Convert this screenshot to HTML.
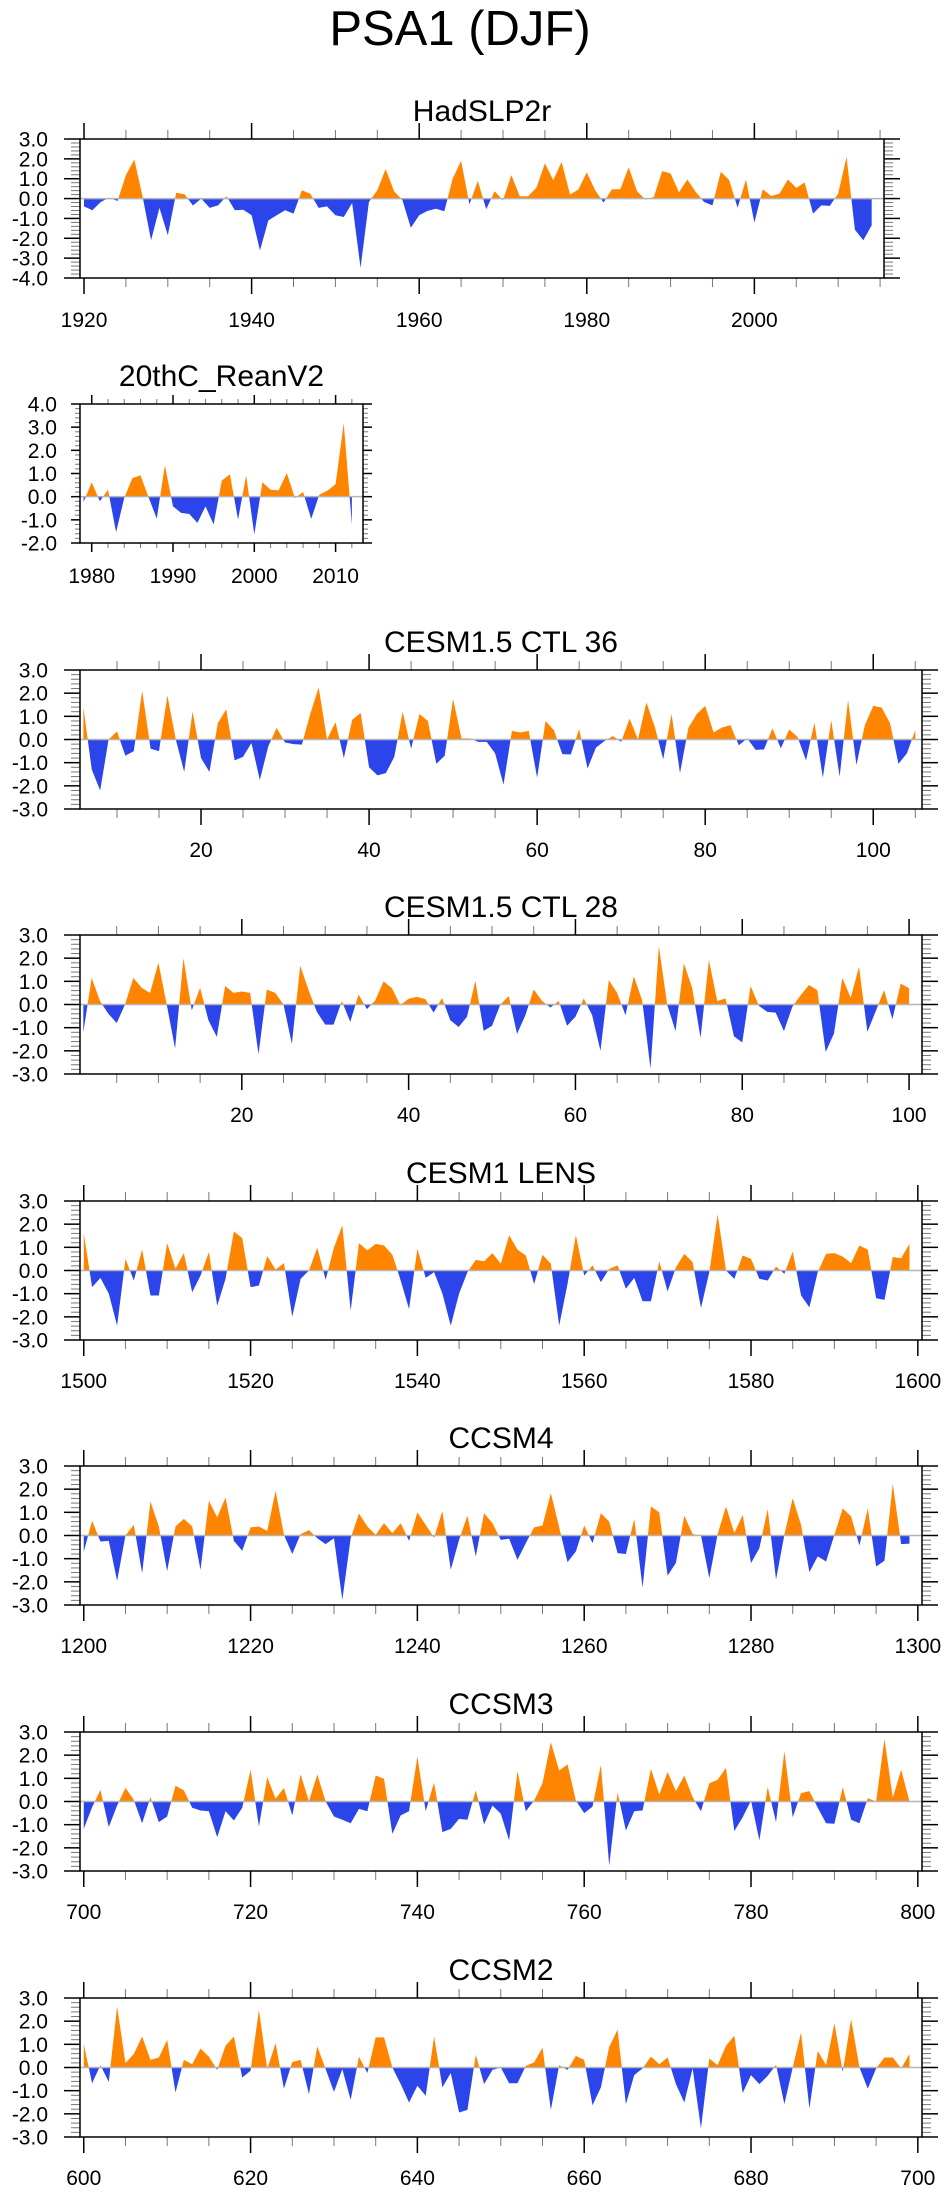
<!DOCTYPE html>
<html><head><meta charset="utf-8"><title>PSA1 (DJF)</title>
<style>
html,body{margin:0;padding:0;background:#fff;}
svg{display:block;font-family:"Liberation Sans",Arial,sans-serif;}
</style></head>
<body>
<svg id="chart" width="946" height="2195" viewBox="0 0 946 2195" xmlns="http://www.w3.org/2000/svg">
<rect x="0" y="0" width="946" height="2195" fill="#fff"/>
<text x="460" y="45" font-size="49" text-anchor="middle" fill="#000">PSA1 (DJF)</text>
</svg>
<script>
// ---------- data ----------
const hadStart = 1920;
const hadVals = [-0.39,-0.59,-0.17,0.05,-0.12,1.18,1.97,0.08,-2.1,-0.47,-1.85,0.29,0.22,-0.35,0,-0.47,-0.34,0.12,-0.59,-0.56,
-0.84,-2.61,-1.1,-0.84,-0.59,-0.76,0.42,0.25,-0.47,-0.39,-0.84,-0.93,-0.22,-3.49,-0.17,0.42,1.48,0.37,-0.08,-1.47,
-0.84,-0.62,-0.51,-0.64,1.01,1.9,-0.29,0.89,-0.54,0.37,-0.08,1.18,0.12,0.12,0.56,1.77,0.93,1.85,0.2,0.46,
1.32,0.42,-0.2,0.47,0.47,1.57,0.37,-0.05,0.08,1.38,1.26,0.32,0.96,0.34,-0.17,-0.34,1.35,0.93,-0.46,0.96,
-1.21,0.47,0.13,0.25,0.96,0.54,0.81,-0.76,-0.34,-0.37,0.25,2.1,-1.57,-2.1,-1.35];
const hadTicks = [1920,1940,1960,1980,2000];

const reanStart = 1979;
const reanVals = [-0.23,0.62,-0.2,0.3,-1.53,-0.05,0.8,0.92,-0.03,-0.95,1.35,-0.42,-0.7,-0.75,-1.13,-0.42,-1.2,0.69,0.97,-0.99,
0.92,-1.63,0.62,0.3,0.27,1.02,-0.06,0.2,-0.96,0.09,0.26,0.54,3.17,-1.2];
const reanTicks = [1980,1990,2000,2010];

const ctl36Start = 6;
const ctl36Vals = [1.4,-1.3,-2.2,0,0.35,-0.7,-0.5,2.1,-0.4,-0.5,1.9,0,-1.4,1.2,-0.8,-1.4,0.7,1.3,-0.9,-0.75,
-0.15,-1.75,-0.3,0.5,-0.13,-0.2,-0.22,1.1,2.25,0,0.75,-0.8,0.85,1.15,-1.2,-1.55,-1.45,-0.75,1.2,-0.4,
1.1,0.8,-1.05,-0.7,1.75,0.05,0.05,-0.1,-0.1,-0.6,-1.95,0.37,0.3,0.37,-1.65,0.8,0.4,-0.63,-0.65,0.45,
-1.25,-0.35,-0.07,0.15,-0.1,0.9,0,1.6,0.55,-0.85,1.1,-1.45,0.5,1.1,1.45,0.3,0.52,0.62,-0.25,0.05,
-0.45,-0.43,0.48,-0.38,0.43,0.1,-0.9,0.72,-1.65,0.83,-1.6,1.7,-1.1,0.62,1.45,1.38,0.7,-1.05,-0.6,0.4];
const ctl36Ticks = [20,40,60,80,100];

const ctl28Start = 1;
const ctl28Vals = [-1.2,1.15,0.15,-0.4,-0.8,0,1.15,0.72,0.5,1.8,0,-1.9,2.0,-0.25,0.72,-0.68,-1.4,0.8,0.5,0.56,
0.5,-2.15,0.65,0.5,0,-1.7,1.67,0.62,-0.32,-0.87,-0.87,0.15,-0.75,0.43,-0.2,0.18,1.0,0.7,-0.03,0.25,
0.33,0.23,-0.35,0.28,-0.68,-0.97,-0.53,1.02,-1.14,-0.92,0,0.36,-1.27,-0.46,0.65,0.15,-0.13,0.15,-0.92,-0.53,
0.26,-0.46,-2.0,1.05,0.5,-0.46,1.22,0.18,-2.77,2.52,0,-1.15,1.77,0.72,-1.44,1.92,0.15,0.26,-1.37,-1.64,
0.8,-0.06,-0.32,-0.35,-1.15,-0.1,0.4,0.84,0.62,-2.05,-1.25,1.15,0.29,1.63,-1.18,-0.29,0.62,-0.63,0.9,0.7];
const ctl28Ticks = [20,40,60,80,100];

const lensStart = 1500;
const lensVals = [1.6,-0.72,-0.32,-1.0,-2.38,0.5,-0.43,0.9,-1.08,-1.08,1.18,0.07,0.75,-0.94,-0.22,0.8,-1.52,-0.36,1.69,1.4,
-0.72,-0.65,0.62,0.04,0.32,-1.99,-0.36,0,0.98,-0.4,1.0,1.95,-1.73,1.18,0.87,1.15,1.08,0.68,-0.43,-1.66,
0.94,-0.32,-0.07,-1.0,-2.38,-1.0,-0.07,0.46,0.4,0.75,0.29,1.52,0.9,0.65,-0.58,0.68,0.29,-2.38,-0.58,1.52,
-0.22,0.22,-0.5,0.07,0.22,-0.79,-0.32,-1.33,-1.33,0.39,-0.9,0.14,0.72,0.36,-1.62,-0.07,2.42,0,-0.36,0.65,
0.5,-0.36,-0.43,0.17,-0.14,0.82,-1.08,-1.59,-0.07,0.72,0.75,0.6,0.32,1.08,0.9,-1.2,-1.27,0.58,0.53,1.15];
const lensTicks = [1500,1520,1540,1560,1580,1600];

const ccsm4Start = 1200;
const ccsm4Vals = [-0.7,0.63,-0.26,-0.23,-1.96,0,0.46,-1.63,1.47,0.39,-1.53,0.39,0.72,0.39,-1.48,1.5,0.78,1.64,-0.23,-0.66,
0.35,0.39,0.2,1.93,0.03,-0.8,0.06,0.23,-0.12,-0.37,-0.12,-2.78,-0.12,0.95,0.39,0.03,0.53,0.1,0.53,-0.23,
1.0,0.46,-0.09,1.06,-1.48,-0.19,0.86,-0.9,0.96,0.53,-0.19,-0.14,-1.05,-0.33,0.35,0.43,1.83,0.35,-1.15,-0.69,
0.43,-0.33,0.96,0.6,-0.76,-0.8,0.72,-2.25,1.25,1.0,-1.73,-1.18,0.86,0.06,0,-1.84,0.06,1.25,0.1,0.89,
-1.19,-0.55,1.14,-1.9,0.03,1.61,0.46,-1.58,-0.9,-1.12,0.03,1.17,0.82,-0.43,1.17,-1.34,-1.09,2.23,-0.37,-0.35];
const ccsm4Ticks = [1200,1220,1240,1260,1280,1300];

const ccsm3Start = 700;
const ccsm3Vals = [-1.18,-0.25,0.5,-1.1,-0.17,0.59,0.07,-0.94,0.19,-0.89,-0.65,0.68,0.48,-0.27,-0.39,-0.42,-1.54,-0.42,-0.82,-0.27,
1.37,-1.08,1.05,0.12,0.58,-0.6,1.17,0,1.17,0,-0.65,-0.79,-0.94,-0.32,-0.42,1.12,0.98,-1.4,-0.6,-0.42,
1.94,-0.42,0.82,-1.32,-1.18,-0.75,-0.79,0.48,-0.99,-0.17,-0.53,-1.68,1.31,-0.42,0.04,0.79,2.56,1.34,1.6,0.04,
-0.5,-0.22,1.58,-2.76,0.39,-1.25,-0.42,-0.39,1.41,0.3,1.27,0.45,1.12,0.19,-0.42,0.79,0.94,1.45,-1.28,-0.68,
0.04,-1.68,0.62,-0.89,2.17,-0.68,0.36,0.45,-0.27,-0.94,-0.96,0.62,-0.79,-0.94,0.14,0,2.7,0.16,1.37,0];
const ccsm3Ticks = [700,720,740,760,780,800];

const ccsm2Start = 600;
const ccsm2Vals = [1.01,-0.68,0.1,-0.62,2.63,0.19,0.58,1.34,0.33,0.43,1.19,-1.08,0.33,0.14,0.82,0.47,-0.1,0.94,1.34,-0.43,
-0.14,2.49,-0.07,1.05,-0.91,0.24,0.33,-1.15,0.91,-0.07,-1.05,-0.07,-1.4,0.47,-0.24,1.3,1.3,0,-0.72,-1.51,
-0.79,-1.22,1.34,-0.86,-0.24,-1.94,-1.83,0.55,-0.72,-0.1,0,-0.68,-0.68,0.07,0.22,0.86,-1.83,0.1,-0.1,0.5,
0.33,-1.63,-0.86,0.89,1.63,-1.58,-0.33,-0.04,0.47,0.14,0.43,-0.72,-1.51,-0.04,-2.63,0.39,0.1,0.94,1.37,-1.1,
-0.33,-0.72,-0.36,0.12,-1.58,0,1.51,-1.77,0.72,0.1,1.91,-0.19,2.09,0,-0.91,-0.04,0.43,0.43,-0.04,0.58];
const ccsm2Ticks = [600,620,640,660,680,700];

// ---------- drawing ----------
const NS = 'http://www.w3.org/2000/svg';
const svg = document.getElementById('chart');
function mk(tag, attrs, parent){
  const e = document.createElementNS(NS, tag);
  for (const k in attrs) e.setAttribute(k, attrs[k]);
  parent.appendChild(e);
  return e;
}
const ORANGE = '#ff8400', BLUE = '#2b45ea';

function drawPanel(cfg, start, vals, ticks){
  const g = mk('g', {}, svg);
  
  
  const L = cfg.left, R = cfg.right, T = cfg.top, B = cfg.bottom;
  const sx = v => L + (v - cfg.xmin) / (cfg.xmax - cfg.xmin) * (R - L);
  const sy = v => B - (v - cfg.ymin) / (cfg.ymax - cfg.ymin) * (B - T);
  const z = sy(0);

  const title = mk('text', {x: (L + R) / 2, y: T - 18, 'font-size': 30, 'text-anchor': 'middle', fill: '#000'}, g);
  title.textContent = cfg.title;
  
  

  const defs = mk('defs', {}, g);
  const cp = mk('clipPath', {id: cfg.name + '-pos'}, defs);
  mk('rect', {x: L, y: T, width: R - L, height: z - T}, cp);
  const cn = mk('clipPath', {id: cfg.name + '-neg'}, defs);
  mk('rect', {x: L, y: z, width: R - L, height: B - z}, cn);

  let d = 'M' + sx(start).toFixed(2) + ',' + z.toFixed(2);
  vals.forEach((v, i) => { d += ' L' + sx(start + i).toFixed(2) + ',' + sy(v).toFixed(2); });
  d += ' L' + sx(start + vals.length - 1).toFixed(2) + ',' + z.toFixed(2) + ' Z';

  const pos = mk('path', {d: d, fill: ORANGE, 'clip-path': 'url(#' + cfg.name + '-pos)'}, g);
  
  
  const neg = mk('path', {d: d, fill: BLUE, 'clip-path': 'url(#' + cfg.name + '-neg)'}, g);
  
  

  const zl = mk('line', {x1: L, x2: R, y1: z, y2: z, stroke: '#b4b4b4', 'stroke-width': 1.5}, g);
  
  

  const ML = cfg.major, ml = cfg.minor;
  // x minor ticks
  for (let v = Math.ceil(cfg.xmin / cfg.xminorStep) * cfg.xminorStep; v <= cfg.xmax; v += cfg.xminorStep){
    const x = sx(v);
    mk('line', {x1: x, x2: x, y1: B, y2: B + ml, stroke: '#777', 'stroke-width': 1}, g);
    mk('line', {x1: x, x2: x, y1: T, y2: T - ml, stroke: '#777', 'stroke-width': 1}, g);
  }
  // x major ticks + labels
  ticks.forEach(t => {
    const x = sx(t);
    mk('line', {x1: x, x2: x, y1: B, y2: B + ML, stroke: '#000', 'stroke-width': 1.5}, g);
    mk('line', {x1: x, x2: x, y1: T, y2: T - ML, stroke: '#000', 'stroke-width': 1.5}, g);
    const tl = mk('text', {x: x, y: B + cfg.labelOff, 'font-size': 21, 'text-anchor': 'middle', fill: '#000'}, g);
    tl.textContent = String(t);
    
    
  });
  // y ticks
  for (let k = Math.round(cfg.ymin * 5); k <= Math.round(cfg.ymax * 5); k++){
    const v = k / 5, y = sy(v);
    const major = (k % 5 === 0);
    const len = major ? ML : ml;
    const col = major ? '#000' : '#777', sw = major ? 1.5 : 1;
    mk('line', {x1: L, x2: L - len, y1: y, y2: y, stroke: col, 'stroke-width': sw}, g);
    mk('line', {x1: R, x2: R + len, y1: y, y2: y, stroke: col, 'stroke-width': sw}, g);
    if (major){
      const yl = mk('text', {x: cfg.ylabelX, y: y + 7.5, 'font-size': 21, 'text-anchor': 'end', fill: '#000'}, g);
      yl.textContent = v.toFixed(1);
      
      
    }
  }
  const fr = mk('rect', {x: L, y: T, width: R - L, height: B - T, fill: 'none', stroke: '#000', 'stroke-width': 1.5}, g);
  
  
}

function std(name, title, top, x0){
  return {name: name, title: title, left: 80, right: 922, top: top, bottom: top + 139,
    xmin: x0 - 0.45, xmax: x0 + 100.5, ymin: -3, ymax: 3, xminorStep: 5,
    major: 16, minor: 9, labelOff: 48, ylabelX: 48};
}

drawPanel({name: 'hadslp2r', title: 'HadSLP2r', left: 80, right: 884, top: 139, bottom: 278,
  xmin: 1919.52, xmax: 2015.47, ymin: -4, ymax: 3, xminorStep: 5, major: 16, minor: 9, labelOff: 49, ylabelX: 48},
  hadStart, hadVals, hadTicks);
drawPanel({name: 'reanv2', title: '20thC_ReanV2', left: 80, right: 363, top: 404, bottom: 543,
  xmin: 1978.56, xmax: 2013.37, ymin: -2, ymax: 4, xminorStep: 2, major: 9, minor: 5, labelOff: 40, ylabelX: 57},
  reanStart, reanVals, reanTicks);
drawPanel({name: 'cesm15-ctl36', title: 'CESM1.5 CTL 36', left: 80, right: 922, top: 670, bottom: 809,
  xmin: 5.6, xmax: 105.8, ymin: -3, ymax: 3, xminorStep: 5, major: 16, minor: 9, labelOff: 48, ylabelX: 48},
  ctl36Start, ctl36Vals, ctl36Ticks);
drawPanel({name: 'cesm15-ctl28', title: 'CESM1.5 CTL 28', left: 80, right: 922, top: 935, bottom: 1074,
  xmin: 0.6, xmax: 101.55, ymin: -3, ymax: 3, xminorStep: 5, major: 16, minor: 9, labelOff: 48, ylabelX: 48},
  ctl28Start, ctl28Vals, ctl28Ticks);
drawPanel(std('cesm1-lens', 'CESM1 LENS', 1201, 1500), lensStart, lensVals, lensTicks);
drawPanel(std('ccsm4', 'CCSM4', 1466, 1200), ccsm4Start, ccsm4Vals, ccsm4Ticks);
drawPanel(std('ccsm3', 'CCSM3', 1732, 700), ccsm3Start, ccsm3Vals, ccsm3Ticks);
drawPanel(std('ccsm2', 'CCSM2', 1998, 600), ccsm2Start, ccsm2Vals, ccsm2Ticks);
</script>
</body></html>
